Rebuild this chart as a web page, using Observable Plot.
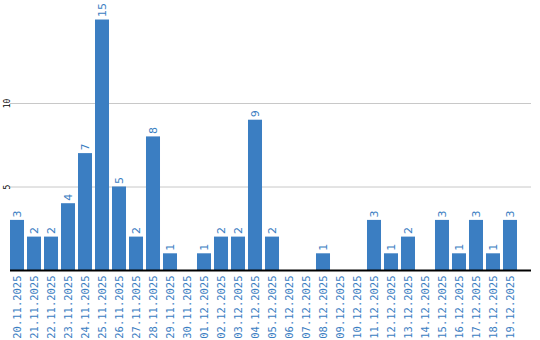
<!DOCTYPE html>
<html>
<head>
<meta charset="utf-8">
<script src="https://cdn.jsdelivr.net/npm/d3@7"></script>
<script src="https://cdn.jsdelivr.net/npm/@observablehq/plot@0.6"></script>
<style>
  html, body { margin: 0; padding: 0; background: #fff; }
</style>
</head>
<body>
<div id="chart"></div>
<script>
const dates = ["20.11.2025","21.11.2025","22.11.2025","23.11.2025","24.11.2025","25.11.2025","26.11.2025","27.11.2025","28.11.2025","29.11.2025","30.11.2025","01.12.2025","02.12.2025","03.12.2025","04.12.2025","05.12.2025","06.12.2025","07.12.2025","08.12.2025","09.12.2025","10.12.2025","11.12.2025","12.12.2025","13.12.2025","14.12.2025","15.12.2025","16.12.2025","17.12.2025","18.12.2025","19.12.2025"];
const counts = [3,2,2,4,7,15,5,2,8,1,0,1,2,2,9,2,0,0,1,0,0,3,1,2,0,3,1,3,1,3];
const yTicks = [5, 10];

const data = dates.map((d, i) => ({date: d, value: counts[i]}));
const nonZero = data.filter(d => d.value > 0);
const blue = "#3b7ec2";

const chart = Plot.plot({
  width: 540,
  height: 340,
  marginLeft: 10,
  marginRight: 9,
  marginTop: 10,
  marginBottom: 70,
  style: {background: "#fff"},
  x: {type: "band", domain: dates, range: [10, 517], paddingInner: 0.176, paddingOuter: 0, align: 0, round: false},
  y: {domain: [0, 15.57]},
  marks: [
    Plot.gridY(yTicks, {stroke: "#c8c8c8", strokeOpacity: 1, strokeWidth: 1}),
    Plot.barY(data, {x: "date", y: "value", fill: blue}),
    Plot.text(nonZero, {x: "date", y: "value", text: d => String(d.value), rotate: -90, textAnchor: "start", lineAnchor: "middle", dy: -3, fill: blue, fontSize: 11, fontFamily: "DejaVu Sans"}),
    Plot.axisX({tickRotate: -90, tickSize: 0, tickPadding: 5, color: blue, fontSize: 10.5, fontFamily: "DejaVu Sans Mono", label: null}),
    Plot.axisY(yTicks, {tickSize: 0, tickPadding: 0, tickRotate: -90, fontSize: 8, fontFamily: "DejaVu Sans Mono", color: "#000", label: null, dx: -1}),
    Plot.ruleX([0], {x: () => 0, frameAnchor: "left", stroke: "#000", strokeWidth: 1.2}),
    Plot.ruleY([0], {stroke: "#000", strokeWidth: 2})
  ]
});
document.getElementById("chart").appendChild(chart);
</script>
</body>
</html>
